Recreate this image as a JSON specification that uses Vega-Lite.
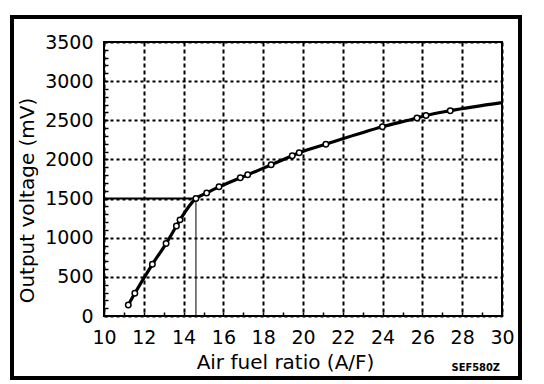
{
  "$schema": "https://vega.github.io/schema/vega-lite/v6.json",
  "width": 398,
  "height": 274,
  "autosize": {"type": "none"},
  "padding": {"left": 104, "top": 42, "right": 42, "bottom": 68},
  "background": "white",
  "datasets": {
    "curve": [
      {"afr": 11.22, "mv": 140, "kind": "measured"},
      {"afr": 11.55, "mv": 290, "kind": "measured"},
      {"afr": 12.43, "mv": 660, "kind": "measured"},
      {"afr": 13.12, "mv": 925, "kind": "measured"},
      {"afr": 13.64, "mv": 1150, "kind": "measured"},
      {"afr": 13.82, "mv": 1228, "kind": "measured"},
      {"afr": 14.62, "mv": 1500, "kind": "measured"},
      {"afr": 15.16, "mv": 1572, "kind": "measured"},
      {"afr": 15.78, "mv": 1650, "kind": "measured"},
      {"afr": 16.85, "mv": 1765, "kind": "measured"},
      {"afr": 17.22, "mv": 1803, "kind": "measured"},
      {"afr": 18.4, "mv": 1932, "kind": "measured"},
      {"afr": 19.46, "mv": 2048, "kind": "measured"},
      {"afr": 19.81, "mv": 2086, "kind": "measured"},
      {"afr": 21.15, "mv": 2195, "kind": "measured"},
      {"afr": 23.99, "mv": 2417, "kind": "measured"},
      {"afr": 25.73, "mv": 2530, "kind": "measured"},
      {"afr": 26.18, "mv": 2562, "kind": "measured"},
      {"afr": 27.4, "mv": 2623, "kind": "measured"},
      {"afr": 30.0, "mv": 2726, "kind": "curve"}
    ],
    "ref": [{"afr": 14.62, "mv": 1500}]
  },
  "title": {
    "text": "SEF580Z",
    "orient": "bottom",
    "anchor": "end",
    "frame": "group",
    "offset": -9,
    "dx": -2,
    "baseline": "alphabetic",
    "font": "DejaVu Sans Condensed, Liberation Sans Narrow, Liberation Sans",
    "fontSize": 11,
    "fontWeight": "bold",
    "color": "black"
  },
  "encoding": {
    "x": {
      "field": "afr",
      "type": "quantitative",
      "scale": {"domain": [10, 30], "nice": false, "zero": false},
      "axis": {
        "title": "Air fuel ratio (A/F)",
        "values": [10, 11, 12, 13, 14, 15, 16, 17, 18, 19, 20, 21, 22, 23, 24, 25, 26, 27, 28, 29, 30],
        "format": "d",
        "labelExpr": "datum.value % 2 === 0 ? datum.label : ''",
        "gridOpacity": {"condition": {"test": "datum.value % 2 !== 0", "value": 0}, "value": 1},
        "gridDash": [4, 3],
        "labelPadding": 16,
        "labelFlush": false,
        "titleX": 181,
        "titleY": 52,
        "titleBaseline": "alphabetic",
        "titleAlign": "center"
      }
    },
    "y": {
      "field": "mv",
      "type": "quantitative",
      "scale": {"domain": [0, 3500], "nice": false},
      "axis": {
        "title": "Output voltage (mV)",
        "values": [0, 100, 200, 300, 400, 500, 600, 700, 800, 900, 1000, 1100, 1200, 1300, 1400, 1500, 1600, 1700, 1800, 1900, 2000, 2100, 2200, 2300, 2400, 2500, 2600, 2700, 2800, 2900, 3000, 3100, 3200, 3300, 3400, 3500],
        "format": "d",
        "labelExpr": "datum.value % 500 === 0 ? datum.label : ''",
        "gridOpacity": {"condition": {"test": "datum.value % 500 !== 0", "value": 0}, "value": 1},
        "gridDash": [3, 3],
        "labelPadding": 15,
        "titleX": -71,
        "titleY": 158,
        "titleAngle": -90,
        "titleBaseline": "alphabetic",
        "titleAlign": "center"
      }
    }
  },
  "layer": [
    {
      "data": {"name": "ref"},
      "mark": {"type": "rule", "stroke": "black", "strokeWidth": 2},
      "encoding": {"x": {"datum": 10}, "x2": {"field": "afr"}}
    },
    {
      "data": {"name": "ref"},
      "mark": {"type": "rule", "stroke": "black", "strokeWidth": 1},
      "encoding": {
        "y": {"datum": 0},
        "y2": {"field": "mv"},
        "fill": {
          "field": "mv",
          "type": "quantitative",
          "scale": {"range": ["rgba(0,0,0,0)", "rgba(0,0,0,0)"]},
          "legend": {
            "orient": "none",
            "legendX": -92,
            "legendY": -25,
            "direction": "horizontal",
            "gradientLength": 508,
            "gradientThickness": 360,
            "gradientStrokeWidth": 0,
            "title": null,
            "labelOpacity": 0,
            "labelFontSize": 1,
            "labelOffset": 0,
            "padding": 0,
            "strokeColor": "black",
            "encode": {"legend": {"update": {"strokeWidth": {"value": 4}}}}
          }
        }
      }
    },
    {
      "data": {"name": "curve"},
      "mark": {"type": "line", "stroke": "black", "strokeWidth": 3.2, "interpolate": "monotone"}
    },
    {
      "data": {"name": "curve"},
      "transform": [{"filter": "datum.kind === 'measured'"}],
      "mark": {"type": "point", "shape": "circle", "filled": true, "fill": "white", "stroke": "black", "strokeWidth": 1.5, "size": 30, "opacity": 1}
    }
  ],
  "config": {
    "font": "DejaVu Sans",
    "view": {"stroke": "black", "strokeWidth": 2},
    "axis": {
      "domain": false,
      "ticks": true,
      "tickColor": "black",
      "tickWidth": 1.5,
      "tickSize": -4,
      "grid": true,
      "gridColor": "black",
      "gridWidth": 2,
      "labelFont": "DejaVu Sans",
      "labelFontSize": 19,
      "labelColor": "black",
      "labelOverlap": false,
      "titleFont": "DejaVu Sans",
      "titleFontSize": 20,
      "titleFontWeight": "normal",
      "titleColor": "black"
    }
  }
}
